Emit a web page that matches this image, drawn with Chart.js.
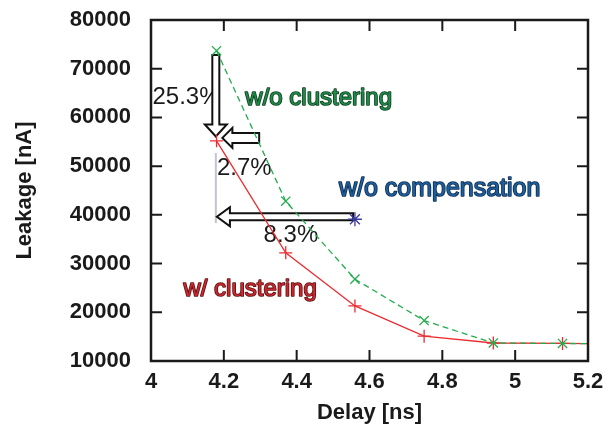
<!DOCTYPE html>
<html>
<head>
<meta charset="utf-8">
<script src="https://cdn.jsdelivr.net/npm/chart.js@4"></script>
<style>
  html, body { margin: 0; padding: 0; background: #fff; }
  #wrap { width: 612px; height: 434px; }
</style>
</head>
<body>
<div id="wrap"><canvas id="c" width="612" height="434"></canvas></div>
<script>
// ---- data ----
const delays       = [4.18, 4.37, 4.56, 4.75, 4.94, 5.13, 5.32];
const woClustering = [73700, 42800, 26800, 18300, 13700, 13600, 13500];
const wClustering  = [55200, 32200, 21300, 15100, 13700, 13600, 13500];
const woCompDelay  = [4.56];
const woCompLeak   = [39100];
const xTicks = [4, 4.2, 4.4, 4.6, 4.8, 5, 5.2];
const yTicks = [10000, 20000, 30000, 40000, 50000, 60000, 70000, 80000];

// annotation anchors (data units)
const pctLabels = [
  { text: '25.3%', x: 4.004, y: 64200 },
  { text: '2.7%',  x: 4.181, y: 49600 },
  { text: '8.3%',  x: 4.309, y: 35850 }
];
const seriesLabels = [
  { text: 'w/o clustering',   x: 4.259, y: 64000, fill: '#1f8a48', stroke: '#0c3a1e', size: 24 },
  { text: 'w/o compensation', x: 4.516, y: 45300, fill: '#1d5d9c', stroke: '#0b2a4d', size: 25 },
  { text: 'w/ clustering',    x: 4.089, y: 24800, fill: '#c9282e', stroke: '#561010', size: 24 }
];
const arrows = [
  { x1: 4.178, y1: 72800, x2: 4.178, y2: 56100, sw: 3.5, hw: 11, hl: 12 },
  { x1: 4.297, y1: 55800, x2: 4.196, y2: 55800, sw: 5,   hw: 10, hl: 10 },
  { x1: 4.555, y1: 39600, x2: 4.181, y2: 39600, sw: 3.5, hw: 9.5, hl: 13 }
];
const guideLine = { x: 4.178, y1: 52700, y2: 38300 };

const toXY = (xs, ys) => xs.map((x, i) => ({ x: x, y: ys[i] }));
const FONT = "'Liberation Sans', Arial, Helvetica, sans-serif";

const decor = {
  id: 'decor',
  beforeDatasetsDraw(chart) {
    const { ctx, scales: { x, y } } = chart;
    ctx.save();
    ctx.fillStyle = '#1a1a1a';
    ctx.textBaseline = 'middle';
    ctx.textAlign = 'left';
    ctx.font = '24px ' + FONT;
    pctLabels.forEach(l => ctx.fillText(l.text, x.getPixelForValue(l.x), y.getPixelForValue(l.y)));
    seriesLabels.forEach(l => {
      ctx.font = l.size + 'px ' + FONT;
      const px = x.getPixelForValue(l.x), py = y.getPixelForValue(l.y);
      ctx.lineWidth = 1.6;
      ctx.strokeStyle = l.stroke;
      ctx.lineJoin = 'round';
      ctx.strokeText(l.text, px, py);
      ctx.fillStyle = l.fill;
      ctx.fillText(l.text, px, py);
    });
    ctx.strokeStyle = '#c3c4cc';
    ctx.lineWidth = 2;
    ctx.beginPath();
    const gx = x.getPixelForValue(guideLine.x);
    ctx.moveTo(gx, y.getPixelForValue(guideLine.y1));
    ctx.lineTo(gx, y.getPixelForValue(guideLine.y2));
    ctx.stroke();
    arrows.forEach(a => {
      const x1 = x.getPixelForValue(a.x1), y1 = y.getPixelForValue(a.y1);
      const x2 = x.getPixelForValue(a.x2), y2 = y.getPixelForValue(a.y2);
      const len = Math.hypot(x2 - x1, y2 - y1);
      const dx = (x2 - x1) / len, dy = (y2 - y1) / len;
      const nx = -dy, ny = dx;
      const bx = x2 - dx * a.hl, by = y2 - dy * a.hl;
      ctx.beginPath();
      ctx.moveTo(x1 + nx * a.sw, y1 + ny * a.sw);
      ctx.lineTo(bx + nx * a.sw, by + ny * a.sw);
      ctx.lineTo(bx + nx * a.hw, by + ny * a.hw);
      ctx.lineTo(x2, y2);
      ctx.lineTo(bx - nx * a.hw, by - ny * a.hw);
      ctx.lineTo(bx - nx * a.sw, by - ny * a.sw);
      ctx.lineTo(x1 - nx * a.sw, y1 - ny * a.sw);
      ctx.closePath();
      ctx.fillStyle = '#ffffff';
      ctx.fill();
      ctx.strokeStyle = '#111111';
      ctx.lineWidth = 2;
      ctx.lineJoin = 'miter';
      ctx.stroke();
    });
    ctx.restore();
  },
  afterDraw(chart) {
    const { ctx, chartArea: a, scales: { x, y } } = chart;
    ctx.save();
    ctx.strokeStyle = '#1a1a1a';
    ctx.lineWidth = 2;
    const T = 11;
    ctx.beginPath();
    x.ticks.forEach(t => {
      const px = x.getPixelForValue(t.value);
      if (Math.abs(px - a.left) < 2 || Math.abs(px - a.right) < 2) return;
      ctx.moveTo(px, a.bottom); ctx.lineTo(px, a.bottom - T);
      ctx.moveTo(px, a.top); ctx.lineTo(px, a.top + T);
    });
    y.ticks.forEach(t => {
      const py = y.getPixelForValue(t.value);
      if (Math.abs(py - a.top) < 2 || Math.abs(py - a.bottom) < 2) return;
      ctx.moveTo(a.left, py); ctx.lineTo(a.left + T, py);
      ctx.moveTo(a.right, py); ctx.lineTo(a.right - T, py);
    });
    ctx.stroke();
    ctx.lineWidth = 2.5;
    ctx.strokeRect(a.left, a.top, a.right - a.left, a.bottom - a.top);
    ctx.restore();
  }
};

new Chart(document.getElementById('c'), {
  type: 'scatter',
  data: {
    datasets: [
      {
        label: 'w/o clustering',
        data: toXY(delays, woClustering),
        showLine: true,
        borderColor: '#22ad4c',
        borderWidth: 1.3,
        borderDash: [6, 4],
        pointStyle: 'crossRot',
        pointRadius: 6.5,
        pointBorderColor: '#22ad4c',
        pointBorderWidth: 1.3,
        tension: 0
      },
      {
        label: 'w/ clustering',
        data: toXY(delays, wClustering),
        showLine: true,
        borderColor: '#ec2c32',
        borderWidth: 1.3,
        pointStyle: 'cross',
        pointRadius: 6.5,
        pointBorderColor: '#ec2c32',
        pointBorderWidth: 1.3,
        tension: 0
      },
      {
        label: 'w/o compensation',
        data: toXY(woCompDelay, woCompLeak),
        showLine: false,
        pointStyle: 'star',
        pointRadius: 7,
        pointBorderColor: '#3b3b9e',
        pointBorderWidth: 1.3
      }
    ]
  },
  options: {
    responsive: false,
    animation: false,
    events: [],
    layout: { padding: { top: 20, right: 24, left: 0, bottom: 0 } },
    plugins: { legend: { display: false }, tooltip: { enabled: false } },
    scales: {
      x: {
        type: 'linear',
        min: 4, max: 5.2,
        afterBuildTicks: s => { s.ticks = xTicks.map(v => ({ value: v })); },
        afterFit: s => { s.height = 73; s.paddingLeft = 0; s.paddingRight = 0; },
        grid: { display: false, drawTicks: false },
        border: { display: false },
        ticks: {
          padding: 8,
          color: '#1a1a1a',
          font: { family: FONT, size: 22, weight: 'bold' },
          maxRotation: 0,
          callback: v => String(+v.toFixed(2))
        },
        title: {
          display: true, text: 'Delay [ns]', color: '#1a1a1a',
          font: { family: FONT, size: 22, weight: 'bold' },
          padding: { top: 8, bottom: 8 }
        }
      },
      y: {
        type: 'linear',
        min: 10000, max: 80000,
        afterBuildTicks: s => { s.ticks = yTicks.map(v => ({ value: v })); },
        afterFit: s => { s.width = 151; s.paddingTop = 0; s.paddingBottom = 0; },
        grid: { display: false, drawTicks: false },
        border: { display: false },
        ticks: {
          padding: 20,
          color: '#1a1a1a',
          font: { family: FONT, size: 22, weight: 'bold' },
          callback: v => String(v)
        },
        title: {
          display: true, text: 'Leakage [nA]', color: '#1a1a1a',
          font: { family: FONT, size: 22, weight: 'bold' },
          padding: { top: 12, bottom: 0 }
        }
      }
    }
  },
  plugins: [decor]
});
</script>
</body>
</html>
